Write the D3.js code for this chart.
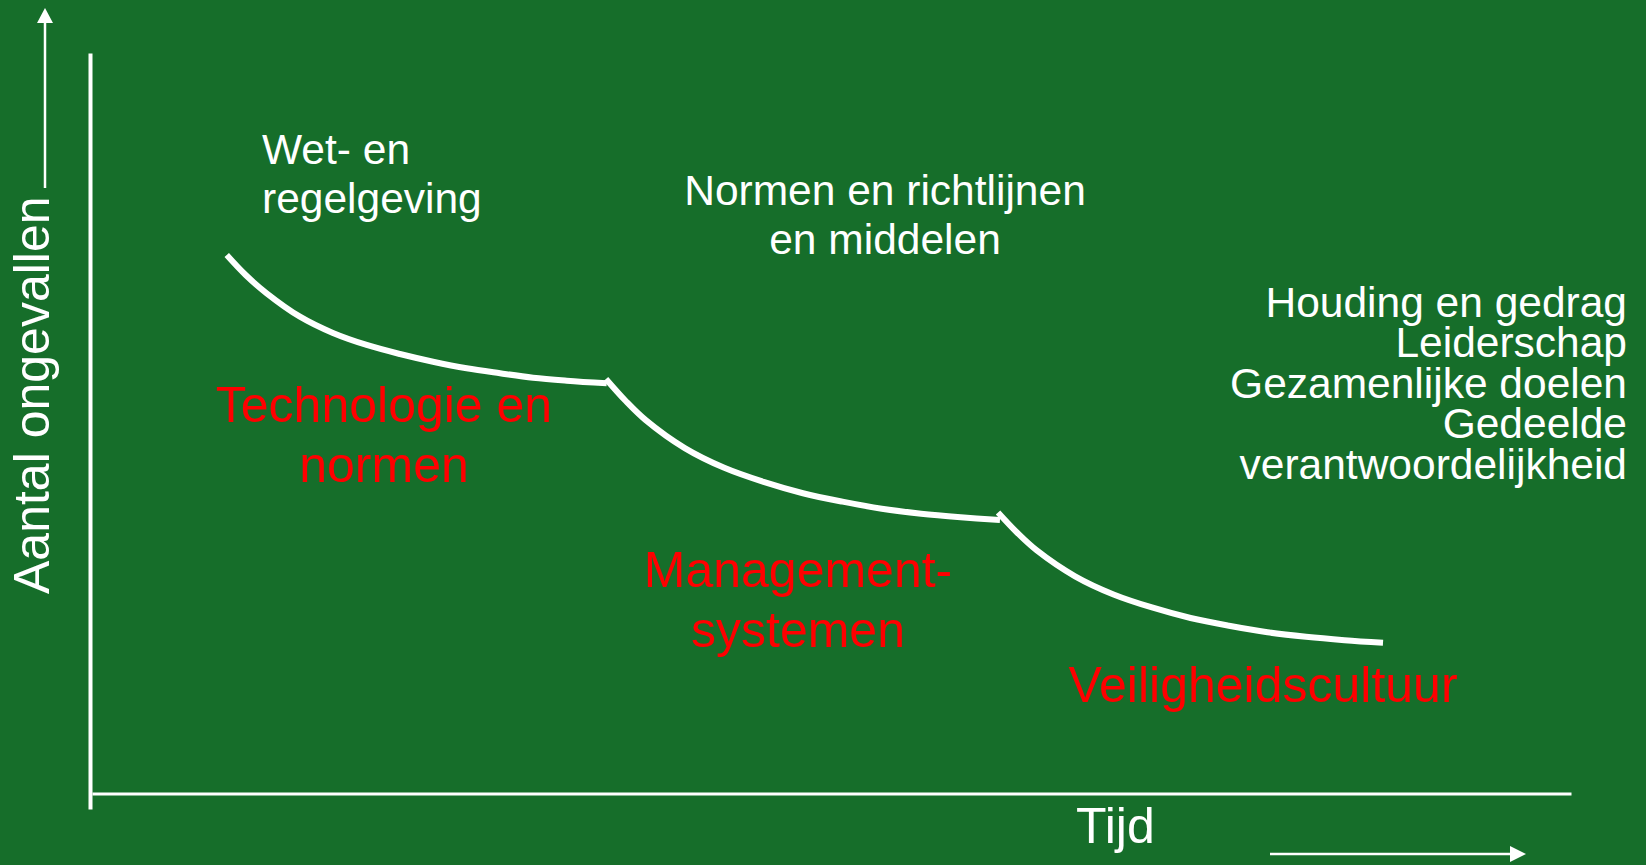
<!DOCTYPE html>
<html>
<head>
<meta charset="utf-8">
<script src="https://cdn.jsdelivr.net/npm/d3@7"></script>
<style>
  html, body { margin: 0; padding: 0; background: #166e2a; }
  svg { display: block; font-family: "Liberation Sans", Arial, sans-serif; }
</style>
</head>
<body>
<svg id="svg1" width="1646" height="865"></svg>
<script>
// curve pieces: [tijd, aantal ongevallen] on a 0-100 scale
var curveTechnologie = [
    [9.11, 72.72], [10.39, 70.02], [11.81, 67.55], [14.06, 64.39], [16.29, 62.19],
    [18.57, 60.57], [20.82, 59.35], [23.06, 58.31], [25.33, 57.42], [27.59, 56.75],
    [29.82, 56.15], [32.10, 55.75], [34.80, 55.39]
];
var curveManagement = [
    [34.75, 55.98], [36.09, 53.00], [37.42, 50.45], [40.08, 46.64], [42.75, 43.98],
    [45.41, 42.08], [48.07, 40.55], [50.74, 39.41], [53.40, 38.46], [56.06, 37.79],
    [58.73, 37.31], [61.39, 36.93]
];
var curveCultuur = [
    [61.26, 37.95], [62.56, 35.21], [63.86, 32.86], [66.47, 29.33], [69.07, 26.88],
    [71.67, 25.12], [74.28, 23.70], [76.88, 22.65], [79.48, 21.77], [82.09, 21.16],
    [84.69, 20.71], [87.29, 20.36]
];

var yLabel = 'Aantal ongevallen';
var xLabel = 'Tijd';
var whiteTopLeft = ['Wet- en', 'regelgeving'];
var whiteTopMid = ['Normen en richtlijnen', 'en middelen'];
var whiteRight = ['Houding en gedrag', 'Leiderschap', 'Gezamenlijke doelen', 'Gedeelde', 'verantwoordelijkheid'];
var redTech = ['Technologie en', 'normen'];
var redMgmt = ['Management-', 'systemen'];
var redCultuur = ['Veiligheidscultuur'];

var svg = d3.select('#svg1');

svg.append('rect')
    .attr('width', 1646)
    .attr('height', 865)
    .attr('fill', '#166e2a');

var scaleX = d3.scaleLinear().domain([0, 100]).range([92, 1571]);
var scaleY = d3.scaleLinear().domain([0, 100]).range([793.5, 53]);

// y axis runs a bit below the x axis
var axisYScale = d3.scaleLinear().domain([-2.1, 100]).range([scaleY(-2.1), scaleY(100)]);

var yAxis = svg.append('g')
    .attr('transform', 'translate(90,0)')
    .call(d3.axisLeft(axisYScale).ticks(0).tickSize(0).tickSizeOuter(0));
yAxis.select('.domain').attr('stroke', '#fff').attr('stroke-width', 4);

var xAxis = svg.append('g')
    .attr('transform', 'translate(0,' + scaleY(0) + ')')
    .call(d3.axisBottom(scaleX).ticks(0).tickSize(0).tickSizeOuter(0));
xAxis.select('.domain').attr('stroke', '#fff').attr('stroke-width', 3);

// arrows beside the axis titles
svg.append('line')
    .attr('x1', 45).attr('x2', 45)
    .attr('y1', 188).attr('y2', 22)
    .attr('stroke', '#fff').attr('stroke-width', 2.5);
svg.append('path')
    .attr('d', 'M45,8 L53,23 L37,23 Z')
    .attr('fill', '#fff');

svg.append('line')
    .attr('x1', 1270).attr('x2', 1511)
    .attr('y1', 854).attr('y2', 854)
    .attr('stroke', '#fff').attr('stroke-width', 2.5);
svg.append('path')
    .attr('d', 'M1526,854 L1510,846 L1510,862 Z')
    .attr('fill', '#fff');

var line = d3.line()
    .x(function(d){ return scaleX(d[0]); })
    .y(function(d){ return scaleY(d[1]); })
    .curve(d3.curveCatmullRom.alpha(0.5));

svg.selectAll('.curve')
    .data([curveTechnologie, curveManagement, curveCultuur])
    .enter()
    .append('path')
    .attr('class', 'curve')
    .attr('d', line)
    .attr('fill', 'none')
    .attr('stroke', '#fff')
    .attr('stroke-width', 6)
    .attr('stroke-linecap', 'butt');

// axis titles
svg.append('text')
    .attr('transform', 'translate(49,594) rotate(-90)')
    .attr('fill', '#fff')
    .attr('font-size', 50)
    .text(yLabel);

svg.append('text')
    .attr('x', 1076)
    .attr('y', 843)
    .attr('fill', '#fff')
    .attr('font-size', 50)
    .text(xLabel);

function addBlock(lines, x, y, lineHeight, anchor, color, size){
    var t = svg.append('text')
        .attr('x', x)
        .attr('y', y)
        .attr('text-anchor', anchor)
        .attr('fill', color)
        .attr('font-size', size);
    t.selectAll('tspan')
        .data(lines)
        .enter()
        .append('tspan')
        .attr('x', x)
        .attr('dy', function(d, i){ return i === 0 ? 0 : lineHeight; })
        .text(function(d){ return d; });
}

addBlock(whiteTopLeft, 262, 164, 48.5, 'start', '#fff', 42.5);
addBlock(whiteTopMid, 885, 205, 49, 'middle', '#fff', 42.5);
addBlock(whiteRight, 1627, 317, 40.4, 'end', '#fff', 42.5);

addBlock(redTech, 384, 422, 60, 'middle', '#ff0000', 50);
addBlock(redMgmt, 798, 587, 60, 'middle', '#ff0000', 50);
addBlock(redCultuur, 1263, 702, 60, 'middle', '#ff0000', 50);
</script>
</body>
</html>
